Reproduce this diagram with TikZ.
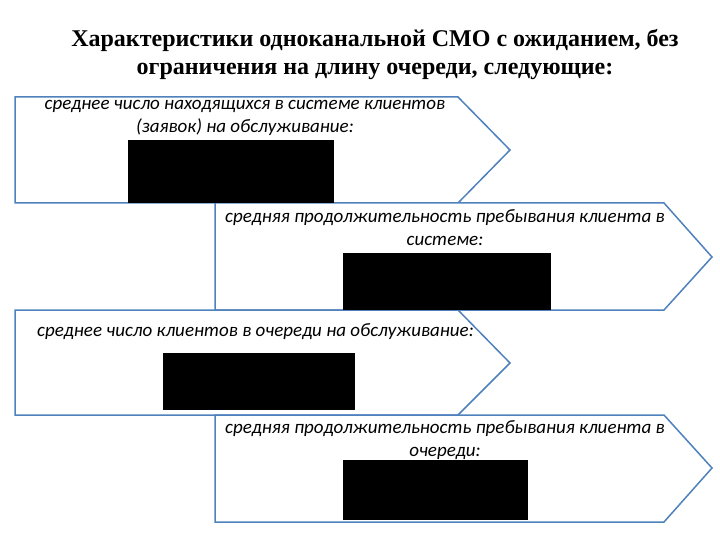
\documentclass[tikz,border=0pt]{standalone}
\usepackage{fontspec}
\setmainfont{Liberation Serif}
\newfontfamily\bodyfont{Carlito}
\definecolor{steel}{HTML}{4F81BD}
\begin{document}
\begin{tikzpicture}[x=1pt,y=-1pt]
\tikzset{arrowbox/.style={draw=steel, line width=1.5pt, fill=white, line join=miter},
  blk/.style={fill=black, draw=none},
  lbl/.style={font=\bodyfont\itshape\fontsize{19}{23}\selectfont, align=center, inner sep=0pt},
  ttl/.style={font=\bfseries\fontsize{24}{28}\selectfont, align=center, inner sep=0pt}}
\useasboundingbox (0,0) rectangle (720,540);
\node[ttl] (title) at (375,55) {Характеристики одноканальной СМО с ожиданием, без\\ограничения на длину очереди, следующие:};
\draw[arrowbox] (15,97) -- (458,97) -- (510,150) -- (458,203) -- (15,203) -- cycle;
\draw[arrowbox] (215,203) -- (664,203) -- (712,257) -- (664,310) -- (215,310) -- cycle;
\draw[arrowbox] (15,310) -- (458,310) -- (510,363) -- (458,415) -- (15,415) -- cycle;
\draw[arrowbox] (215,415) -- (664,415) -- (712,468) -- (664,522) -- (215,522) -- cycle;
\fill[blk] (128,140) rectangle (334,203);
\fill[blk] (343,253) rectangle (551,310);
\fill[blk] (163,353) rectangle (355,410);
\fill[blk] (343,460) rectangle (528,520);
\node[lbl] (t1) at (245,118) {среднее число находящихся в системе клиентов\\(заявок) на обслуживание:};
\node[lbl] (t2) at (445,228) {средняя продолжительность пребывания клиента в\\системе:};
\node[lbl,anchor=west] (t3) at (37,332) {среднее число клиентов в очереди на обслуживание:};
\node[lbl] (t4) at (445,440) {средняя продолжительность пребывания клиента в\\очереди:};
\end{tikzpicture}
\end{document}
